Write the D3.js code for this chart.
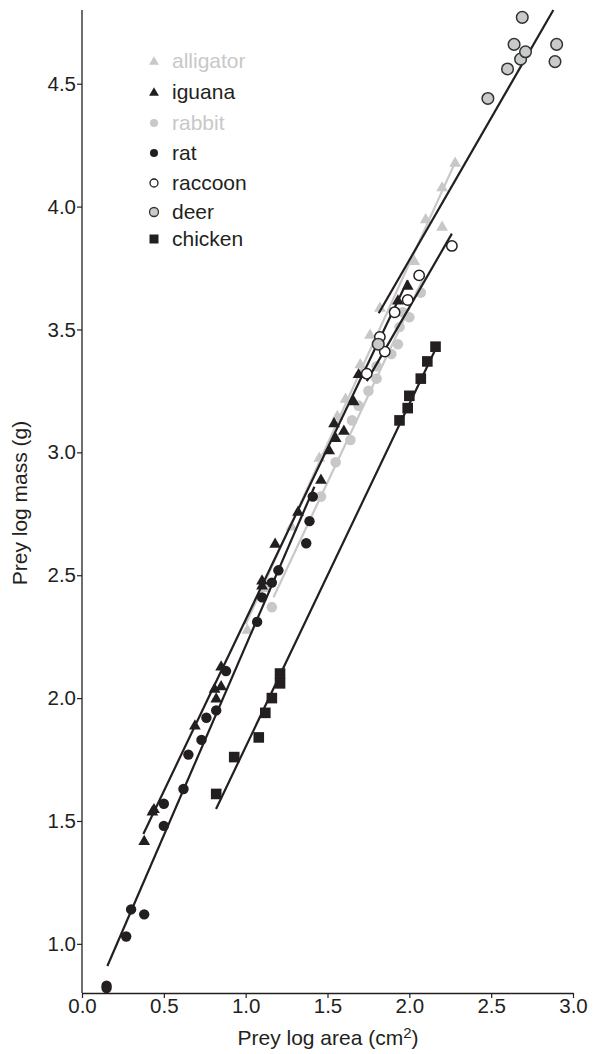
<!DOCTYPE html>
<html><head><meta charset="utf-8">
<script src="https://cdn.jsdelivr.net/npm/d3@7/dist/d3.min.js"></script>
<style>body{margin:0;background:#fff;}svg{display:block;font-family:"Liberation Sans",Arial,sans-serif;}</style>
</head><body>
<script>
// ---- data (log area cm2, log mass g) ----
const alligatorX = [1.01, 1.12, 1.28, 1.45, 1.56, 1.61, 1.70, 1.76, 1.82, 2.03, 2.10, 2.20, 2.20, 2.28];
const alligatorY = [2.28, 2.45, 2.70, 2.98, 3.15, 3.22, 3.36, 3.48, 3.59, 3.78, 3.95, 3.92, 4.08, 4.18];
const iguanaX = [0.38, 0.43, 0.44, 0.69, 0.81, 0.82, 0.85, 0.85, 1.10, 1.10, 1.18, 1.32, 1.46, 1.51, 1.55, 1.54, 1.60, 1.66, 1.69, 1.93, 1.99];
const iguanaY = [1.42, 1.54, 1.55, 1.89, 2.04, 2.00, 2.05, 2.13, 2.46, 2.48, 2.63, 2.76, 2.89, 3.01, 3.06, 3.12, 3.09, 3.21, 3.32, 3.62, 3.68];
const rabbitX = [1.16, 1.46, 1.55, 1.64, 1.65, 1.69, 1.75, 1.80, 1.80, 1.89, 1.93, 1.94, 1.96, 2.00, 2.07];
const rabbitY = [2.37, 2.82, 2.96, 3.05, 3.13, 3.19, 3.25, 3.30, 3.35, 3.40, 3.44, 3.51, 3.57, 3.55, 3.65];
const ratX = [0.15, 0.15, 0.27, 0.30, 0.38, 0.50, 0.50, 0.62, 0.65, 0.73, 0.76, 0.82, 0.88, 1.07, 1.10, 1.16, 1.20, 1.37, 1.39, 1.41];
const ratY = [0.83, 0.82, 1.03, 1.14, 1.12, 1.48, 1.57, 1.63, 1.77, 1.83, 1.92, 1.95, 2.11, 2.31, 2.41, 2.47, 2.52, 2.63, 2.72, 2.82];
const raccoonX = [1.74, 1.82, 1.85, 1.91, 1.99, 2.06, 2.26];
const raccoonY = [3.32, 3.47, 3.41, 3.57, 3.62, 3.72, 3.84];
const deerX = [1.81, 2.48, 2.60, 2.64, 2.68, 2.71, 2.69, 2.89, 2.90];
const deerY = [3.44, 4.44, 4.56, 4.66, 4.60, 4.63, 4.77, 4.59, 4.66];
const chickenX = [0.82, 0.93, 1.08, 1.12, 1.16, 1.21, 1.21, 1.94, 1.99, 2.00, 2.07, 2.11, 2.16];
const chickenY = [1.61, 1.76, 1.84, 1.94, 2.00, 2.06, 2.10, 3.13, 3.18, 3.23, 3.30, 3.37, 3.43];
// fitted lines: [x0, x1] and [y0, y1]
const lineAlligatorX = [1.00, 2.28], lineAlligatorY = [2.30, 4.18];
const lineRabbitX = [1.17, 2.08], lineRabbitY = [2.41, 3.70];
const lineIguanaX = [0.375, 1.99], lineIguanaY = [1.447, 3.70];
const lineRatX = [0.155, 1.42], lineRatY = [0.91, 2.86];
const lineRaccoonX = [1.74, 2.26], lineRaccoonY = [3.29, 3.89];
const lineDeerX = [1.813, 2.88], lineDeerY = [3.566, 4.80];
const lineChickenX = [0.819, 2.167], lineChickenY = [1.549, 3.43];
const xTicks = [0.0, 0.5, 1.0, 1.5, 2.0, 2.5, 3.0];
const yTicks = [1.0, 1.5, 2.0, 2.5, 3.0, 3.5, 4.0, 4.5];
const legendNames = ["alligator", "iguana", "rabbit", "rat", "raccoon", "deer", "chicken"];

const W = 593, H = 1054;
const BLACK = "#231f20", GRAY = "#c8c8ca", DEERFILL = "#c9cacb";
const svg = d3.select("body").append("svg").attr("width", W).attr("height", H);
const x = d3.scaleLinear().domain([0, 3]).range([82, 573]);
const y = d3.scaleLinear().domain([0.8, 4.8]).range([993, 10]);

// axes
const xAxis = svg.append("g").attr("transform", "translate(0,993)")
  .call(d3.axisBottom(x).tickValues(xTicks).tickFormat(d3.format(".1f")).tickSize(5).tickSizeOuter(0));
const yAxis = svg.append("g").attr("transform", "translate(82,0)")
  .call(d3.axisLeft(y).tickValues(yTicks).tickFormat(d3.format(".1f")).tickSize(5).tickSizeOuter(0));
[xAxis, yAxis].forEach(g => {
  g.select(".domain").attr("stroke", BLACK).attr("stroke-width", 1.3);
  g.selectAll(".tick line").attr("stroke", BLACK).attr("stroke-width", 1.2);
  g.selectAll("text").attr("fill", BLACK).style("font-size", "20.5px").style("font-family", "Liberation Sans, Arial, sans-serif");
});
xAxis.selectAll("text").attr("dy", "0.55em").attr("y", 9);
yAxis.select(".domain").attr("d", `M0,${y(4.8)}V${y(0.8)}`);
yAxis.selectAll("text").attr("x", -6);

// axis titles
const xt = svg.append("text").attr("x", 328).attr("y", 1045).attr("text-anchor", "middle")
  .attr("fill", BLACK).style("font-size", "21px");
xt.append("tspan").text("Prey log area (cm");
xt.append("tspan").attr("dy", -7).style("font-size", "15px").text("2");
xt.append("tspan").attr("dy", 7).text(")");
svg.append("text").attr("transform", "translate(27,503) rotate(-90)").attr("text-anchor", "middle")
  .attr("fill", BLACK).style("font-size", "21px").text("Prey log mass (g)");

const tri = d3.symbol().type(d3.symbolTriangle).size(60);
const triLeg = d3.symbol().type(d3.symbolTriangle).size(42);
function zipXY(xs, ys) { return xs.map((v, i) => [v, ys[i]]); }
function drawLine(xs, ys, color, w) {
  svg.append("path").datum(zipXY(xs, ys))
    .attr("d", d3.line().x(d => x(d[0])).y(d => y(d[1])))
    .attr("stroke", color).attr("stroke-width", w).attr("fill", "none");
}
function drawTri(xs, ys, color) {
  svg.append("g").selectAll("path").data(zipXY(xs, ys)).join("path")
    .attr("d", tri).attr("transform", d => `translate(${x(d[0])},${y(d[1]) + 1})`).attr("fill", color);
}
function drawCirc(xs, ys, fill, stroke, r) {
  svg.append("g").selectAll("circle").data(zipXY(xs, ys)).join("circle")
    .attr("cx", d => x(d[0])).attr("cy", d => y(d[1])).attr("r", r)
    .attr("fill", fill).attr("stroke", stroke).attr("stroke-width", stroke === "none" ? 0 : 1.5);
}

// gray layers
drawCirc(rabbitX, rabbitY, GRAY, "none", 5.3);
drawTri(alligatorX, alligatorY, GRAY);
drawLine(lineAlligatorX, lineAlligatorY, GRAY, 2.2);
drawLine(lineRabbitX, lineRabbitY, GRAY, 2.2);
// black lines
drawLine(lineIguanaX, lineIguanaY, BLACK, 2.2);
drawLine(lineRatX, lineRatY, BLACK, 2.2);
drawLine(lineRaccoonX, lineRaccoonY, BLACK, 2.2);
drawLine(lineDeerX, lineDeerY, BLACK, 2.2);
drawLine(lineChickenX, lineChickenY, BLACK, 2.2);
// black points
drawTri(iguanaX, iguanaY, BLACK);
drawCirc(ratX, ratY, BLACK, "none", 5.2);
drawCirc(raccoonX, raccoonY, "#fff", BLACK, 5.2);
drawCirc(deerX, deerY, DEERFILL, "#333", 5.8);
svg.append("g").selectAll("rect").data(zipXY(chickenX, chickenY)).join("rect")
  .attr("x", d => x(d[0]) - 5.3).attr("y", d => y(d[1]) - 5.3).attr("width", 10.6).attr("height", 10.6).attr("fill", BLACK);

// legend
const legY = [61, 92, 123, 153, 183, 212, 239];
const legColor = [GRAY, BLACK, GRAY, BLACK, BLACK, BLACK, BLACK];
const lg = svg.append("g");
legendNames.forEach((name, i) => {
  const cy = legY[i], cx = 154;
  if (i === 0 || i === 1) lg.append("path").attr("d", triLeg).attr("transform", `translate(${cx},${cy + 1})`).attr("fill", legColor[i]);
  else if (i === 2 || i === 3) lg.append("circle").attr("cx", cx).attr("cy", cy).attr("r", 4).attr("fill", legColor[i]);
  else if (i === 4) lg.append("circle").attr("cx", cx).attr("cy", cy).attr("r", 4).attr("fill", "#fff").attr("stroke", BLACK).attr("stroke-width", 1.3);
  else if (i === 5) lg.append("circle").attr("cx", cx).attr("cy", cy).attr("r", 4.5).attr("fill", DEERFILL).attr("stroke", "#333").attr("stroke-width", 1.3);
  else lg.append("rect").attr("x", cx - 4.5).attr("y", cy - 4.5).attr("width", 9).attr("height", 9).attr("fill", BLACK);
  lg.append("text").attr("x", 172).attr("y", cy).attr("dy", "0.35em").attr("fill", legColor[i])
    .style("font-size", "21px").text(name);
});
</script>
</body></html>
